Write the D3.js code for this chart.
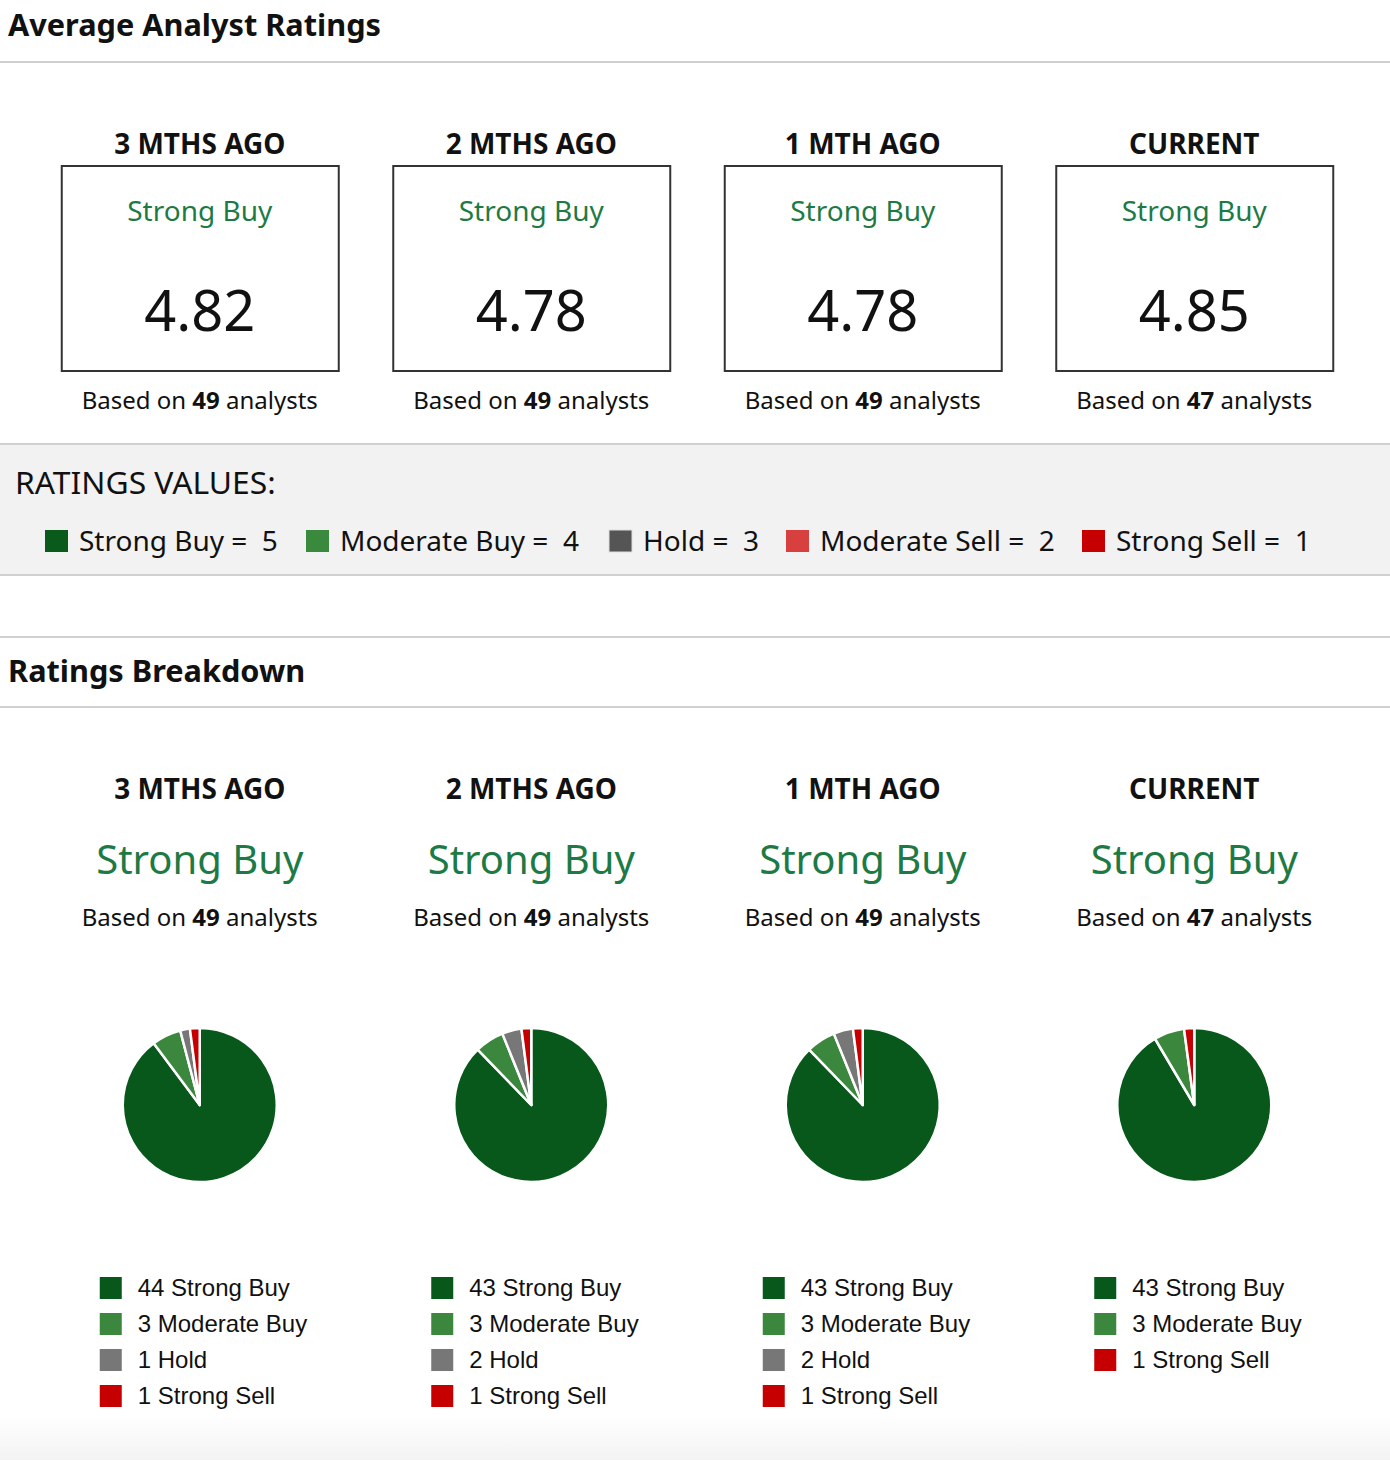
<!DOCTYPE html>
<html>
<head>
<meta charset="utf-8">
<script src="https://cdn.jsdelivr.net/npm/d3@7"></script>
<style>
  body { margin: 0; background: #fff; }
  svg { display: block; font-family: "Noto Sans", "Open Sans", sans-serif; }
  text { white-space: pre; }
</style>
</head>
<body>
<svg id="chart" width="1390" height="1460"></svg>
<script>
// data
var periods = ["3 MTHS AGO", "2 MTHS AGO", "1 MTH AGO", "CURRENT"];
var consensus = ["Strong Buy", "Strong Buy", "Strong Buy", "Strong Buy"];
var averages = [4.82, 4.78, 4.78, 4.85];
var analysts = [49, 49, 49, 47];

var ratingNames = ["Strong Buy", "Moderate Buy", "Hold", "Moderate Sell", "Strong Sell"];
var ratingValues = [5, 4, 3, 2, 1];

var strongBuy = [44, 43, 43, 43];
var moderateBuy = [3, 3, 3, 3];
var hold = [1, 2, 2, 0];
var moderateSell = [0, 0, 0, 0];
var strongSell = [1, 1, 1, 1];

var legendColors = ["#0a5a1c", "#3a8a3e", "#555555", "#d84040", "#c60000"];
var pieColors = ["#07581a", "#3b873d", "#777777", "#d84040", "#c60000"];

var svg = d3.select("#chart");
var W = 1390;

var col = d3.scaleBand().domain(periods).range([34, 1360]);
var cx = function (p) { return col(p) + col.bandwidth() / 2; };

// section header helper
function header(title, y, lineTop, lineBottom) {
    if (lineTop != null) {
        svg.append("line").attr("x1", 0).attr("x2", W).attr("y1", lineTop).attr("y2", lineTop)
            .attr("stroke", "#d0d0d0").attr("stroke-width", 2);
    }
    svg.append("text").attr("x", 8).attr("y", y)
        .style("font-size", "30.7px").style("font-weight", "700").attr("fill", "#111")
        .text(title);
    svg.append("line").attr("x1", 0).attr("x2", W).attr("y1", lineBottom).attr("y2", lineBottom)
        .attr("stroke", "#d0d0d0").attr("stroke-width", 2);
}

function basedOn(g, y, n) {
    var t = g.append("text").attr("y", y).attr("text-anchor", "middle")
        .style("font-size", "24px").attr("fill", "#111");
    t.append("tspan").text("Based on ");
    t.append("tspan").style("font-weight", "700").text(n);
    t.append("tspan").text(" analysts");
}

// bottom fade
var defs = svg.append("defs");
var grad = defs.append("linearGradient").attr("id", "fade").attr("x1", 0).attr("x2", 0).attr("y1", 0).attr("y2", 1);
grad.append("stop").attr("offset", "0%").attr("stop-color", "#fff");
grad.append("stop").attr("offset", "100%").attr("stop-color", "#f3f3f3");
svg.append("rect").attr("x", 0).attr("y", 1415).attr("width", W).attr("height", 45).attr("fill", "url(#fade)");

// Average Analyst Ratings
header("Average Analyst Ratings", 36, null, 62);

var avgCols = svg.selectAll("g.avg").data(periods).enter().append("g")
    .attr("class", "avg")
    .attr("transform", function (d) { return "translate(" + cx(d) + ",0)"; });

avgCols.append("text").attr("y", 154).attr("text-anchor", "middle")
    .style("font-size", "28px").style("font-weight", "700").attr("fill", "#111")
    .text(function (d) { return d; });

avgCols.append("rect").attr("x", -138).attr("y", 166).attr("width", 277).attr("height", 205)
    .attr("fill", "none").attr("stroke", "#333").attr("stroke-width", 2);

avgCols.append("text").attr("y", 221).attr("text-anchor", "middle")
    .style("font-size", "28px").attr("fill", "#1e7a45")
    .text(function (d, i) { return consensus[i]; });

avgCols.append("text").attr("y", 331).attr("text-anchor", "middle")
    .style("font-size", "56px").attr("fill", "#111")
    .text(function (d, i) { return averages[i].toFixed(2); });

avgCols.each(function (d, i) { basedOn(d3.select(this), 409, analysts[i]); });

// Ratings values band
svg.append("rect").attr("x", 0).attr("y", 444).attr("width", W).attr("height", 131).attr("fill", "#f2f2f2");
[444, 575].forEach(function (y) {
    svg.append("line").attr("x1", 0).attr("x2", W).attr("y1", y).attr("y2", y)
        .attr("stroke", "#d0d0d0").attr("stroke-width", 2);
});
svg.append("text").attr("x", 15).attr("y", 494)
    .style("font-size", "31.8px").attr("fill", "#111").text("RATINGS VALUES:");

var keyX = [45, 306, 609, 786, 1082];
var key = svg.selectAll("g.key").data(ratingNames).enter().append("g")
    .attr("class", "key")
    .attr("transform", function (d, i) { return "translate(" + keyX[i] + ",0)"; });
key.append("rect").attr("x", 0).attr("y", 530).attr("width", 23).attr("height", 22)
    .attr("fill", function (d, i) { return legendColors[i]; })
    .attr("stroke", function (d, i) { return i == 2 ? "#ddd" : "none"; });
key.append("text").attr("x", 34).attr("y", 551)
    .style("font-size", "28px").attr("fill", "#111")
    .text(function (d, i) { return d + " =  " + ratingValues[i]; });

// Ratings Breakdown
header("Ratings Breakdown", 682, 637, 707);

var pie = d3.pie().sort(null).value(function (d) { return d.count; });
var arc = d3.arc().innerRadius(0).outerRadius(77);

var bd = svg.selectAll("g.bd").data(periods).enter().append("g")
    .attr("class", "bd")
    .attr("transform", function (d) { return "translate(" + cx(d) + ",0)"; });

bd.append("text").attr("y", 799).attr("text-anchor", "middle")
    .style("font-size", "28px").style("font-weight", "700").attr("fill", "#111")
    .text(function (d) { return d; });

bd.append("text").attr("y", 874).attr("text-anchor", "middle")
    .style("font-size", "40px").attr("fill", "#1e7a45")
    .text(function (d, i) { return consensus[i]; });

bd.each(function (d, i) {
    var g = d3.select(this);
    basedOn(g, 926, analysts[i]);

    var counts = [strongBuy[i], moderateBuy[i], hold[i], moderateSell[i], strongSell[i]];
    var rows = ratingNames.map(function (n, k) { return { name: n, count: counts[k], k: k }; })
        .filter(function (r) { return r.count > 0; });

    g.append("g").attr("transform", "translate(0,1105)")
        .selectAll("path").data(pie(rows)).enter().append("path")
        .attr("d", arc)
        .attr("fill", function (s) { return pieColors[s.data.k]; })
        .attr("stroke", "#fff").attr("stroke-width", 2.5).attr("stroke-linejoin", "round");

    var leg = g.selectAll("g.item").data(rows).enter().append("g")
        .attr("class", "item")
        .attr("transform", function (r, j) { return "translate(-100," + (1277 + j * 36) + ")"; });
    leg.append("rect").attr("width", 22).attr("height", 22)
        .attr("fill", function (r) { return pieColors[r.k]; });
    leg.append("text").attr("x", 38).attr("y", 19)
        .style("font-family", "'Liberation Sans', Arial, sans-serif").style("font-size", "24px")
        .attr("fill", "#111")
        .text(function (r) { return r.count + " " + r.name; });
});
</script>
</body>
</html>
